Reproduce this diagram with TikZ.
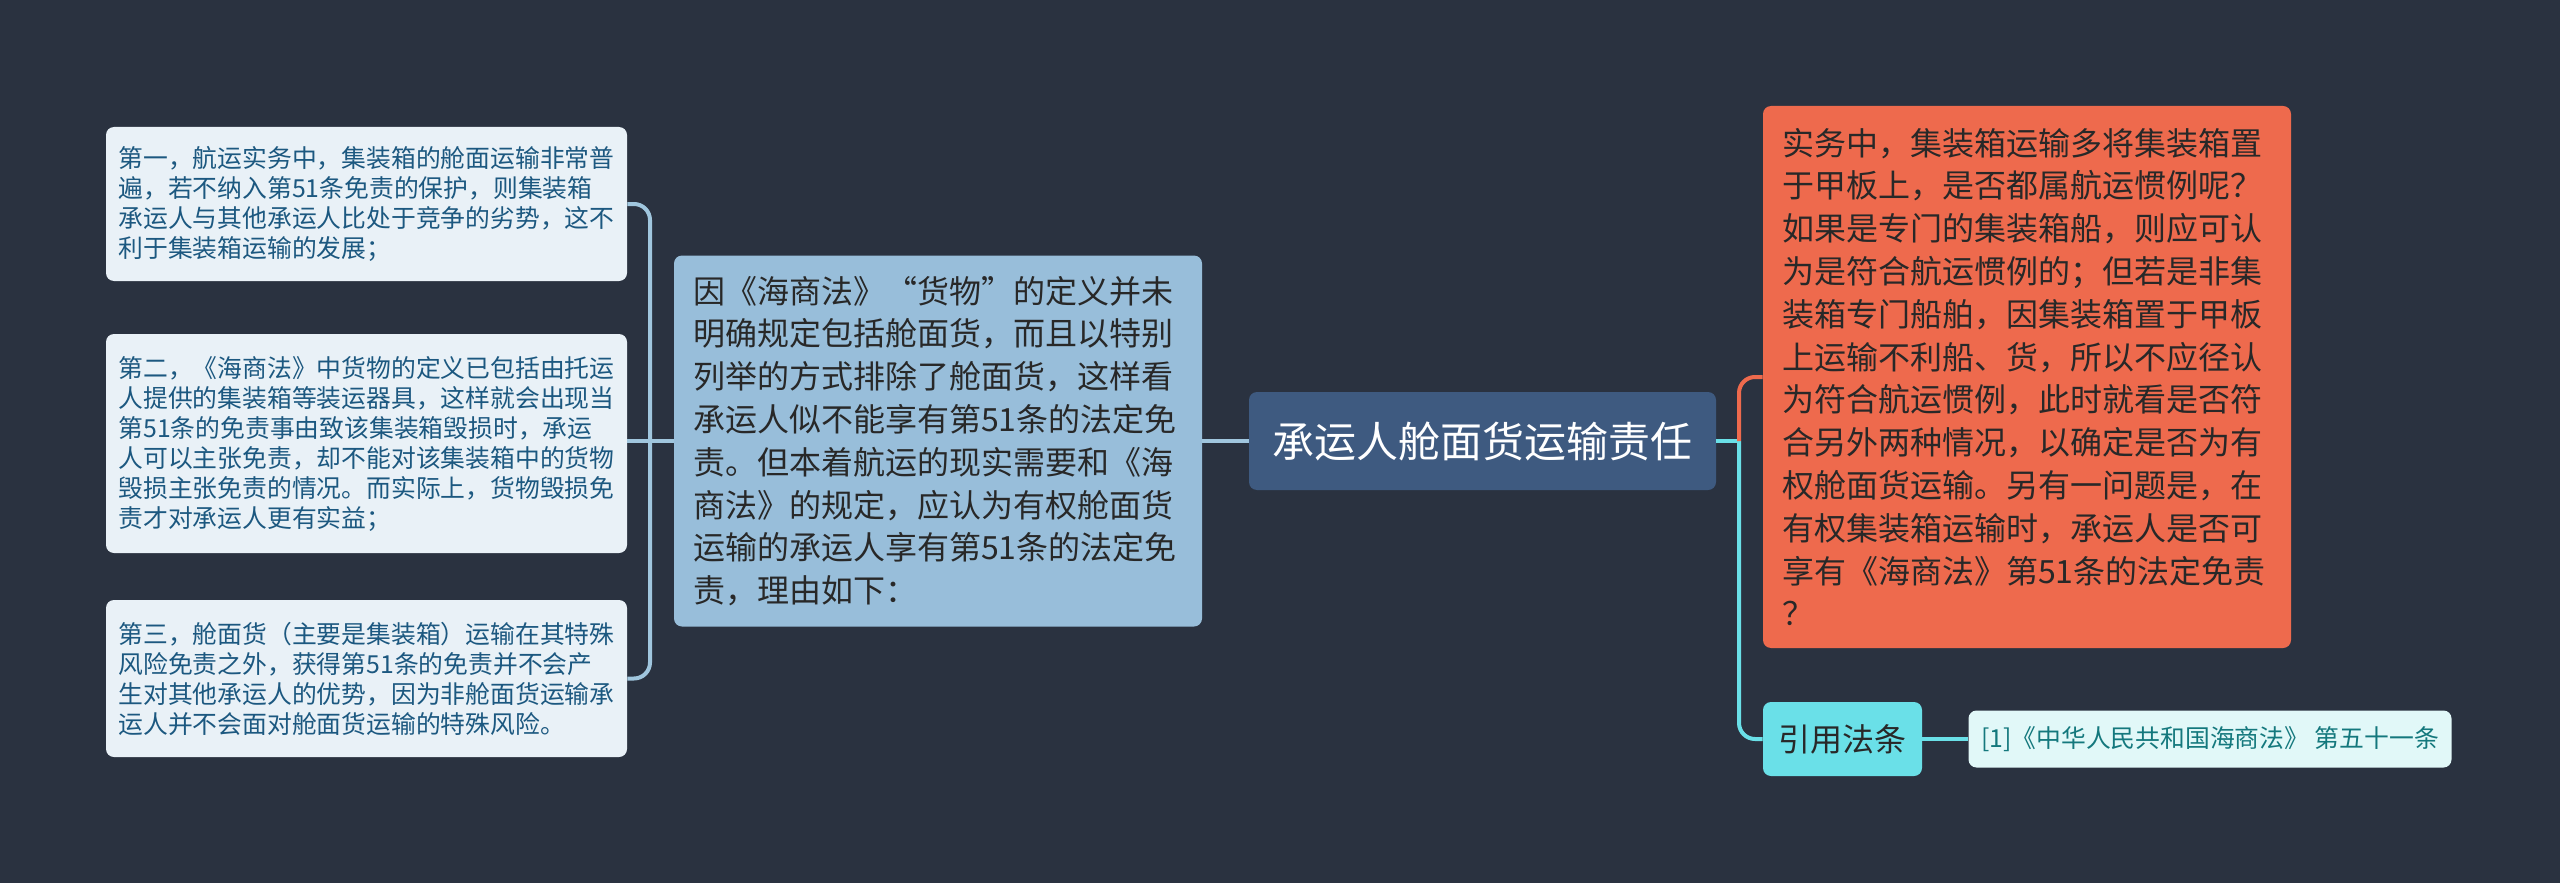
\documentclass[tikz,border=0pt]{standalone}
\usepackage{fontspec}
\setmainfont{Noto Sans CJK SC}
\definecolor{bgdark}{RGB}{42,50,64}
\definecolor{leaffill}{RGB}{233,241,247}
\definecolor{leaftext}{RGB}{28,88,128}
\definecolor{leafline}{RGB}{160,198,222}
\definecolor{basisfill}{RGB}{152,190,218}
\definecolor{rootfill}{RGB}{62,90,128}
\definecolor{qfill}{RGB}{238,106,77}
\definecolor{reffill}{RGB}{106,224,232}
\definecolor{citefill}{RGB}{225,248,248}
\definecolor{citetext}{RGB}{20,120,125}
\definecolor{darktext}{RGB}{40,40,40}
\begin{document}
\begin{tikzpicture}
  [x=0.5pt,y=-0.5pt,
   every node/.style={rounded corners=4pt,inner ysep=0pt,align=left},
   reason/.style={fill=leaffill,text=leaftext,text width=248pt,inner xsep=6.25pt,
     font=\fontsize{12.4pt}{15pt}\selectfont},
   bigbox/.style={text=darktext,text width=245pt,inner xsep=9.5pt,
     font=\fontsize{16pt}{21.4pt}\selectfont},
   leftline/.style={draw=leafline,line width=2pt,rounded corners=8pt},
   qline/.style={draw=qfill,line width=2pt,rounded corners=8pt},
   refline/.style={draw=reffill,line width=2pt,rounded corners=8pt}]
  \fill[bgdark] (0,0) rectangle (2560,883);

  \node[fill=rootfill,text=white,minimum width=233.5pt,minimum height=49pt,
    font=\fontsize{21pt}{25pt}\selectfont] (root) at (1482.5,441) {承运人舱面货运输责任};

  \node[bigbox,fill=basisfill,minimum height=185.5pt] (basis) at (938,441)
    {因《海商法》“货物”的定义并未\\明确规定包括舱面货，而且以特别\\列举的方式排除了舱面货，这样看\\承运人似不能享有第51条的法定免\\责。但本着航运的现实需要和《海\\商法》的规定，应认为有权舱面货\\运输的承运人享有第51条的法定免\\责，理由如下：};

  \node[reason,minimum height=77pt] (reason1) at (366.5,204)
    {第一，航运实务中，集装箱的舱面运输非常普\\遍，若不纳入第51条免责的保护，则集装箱\\承运人与其他承运人比处于竞争的劣势，这不\\利于集装箱运输的发展；};
  \node[reason,minimum height=109.5pt] (reason2) at (366.5,443.5)
    {第二，《海商法》中货物的定义已包括由托运\\人提供的集装箱等装运器具，这样就会出现当\\第51条的免责事由致该集装箱毁损时，承运\\人可以主张免责，却不能对该集装箱中的货物\\毁损主张免责的情况。而实际上，货物毁损免\\责才对承运人更有实益；};
  \node[reason,minimum height=78.5pt] (reason3) at (366.5,678.5)
    {第三，舱面货（主要是集装箱）运输在其特殊\\风险免责之外，获得第51条的免责并不会产\\生对其他承运人的优势，因为非舱面货运输承\\运人并不会面对舱面货运输的特殊风险。};

  \node[bigbox,fill=qfill,text=darktext,minimum height=271pt] (question) at (2027,377)
    {实务中，集装箱运输多将集装箱置\\于甲板上，是否都属航运惯例呢？\\如果是专门的集装箱船，则应可认\\为是符合航运惯例的；但若是非集\\装箱专门船舶，因集装箱置于甲板\\上运输不利船、货，所以不应径认\\为符合航运惯例，此时就看是否符\\合另外两种情况，以确定是否为有\\权舱面货运输。另有一问题是，在\\有权集装箱运输时，承运人是否可\\享有《海商法》第51条的法定免责\\？};

  \node[fill=reffill,text=darktext,minimum width=79.5pt,minimum height=37pt,
    font=\fontsize{16pt}{19pt}\selectfont] (refs) at (1842.5,739) {引用法条};
  \node[fill=citefill,text=citetext,minimum width=241.5pt,minimum height=28.5pt,
    font=\fontsize{12.4pt}{15pt}\selectfont] (cite) at (2210,739)
    {[1]《中华人民共和国海商法》 第五十一条};

  \coordinate (jl) at (650,441);
  \coordinate (jr) at (1739,441);

  \draw[leftline] (root.west) -- (root.west -| basis.east);
  \draw[leftline] (basis.west) -- (jl);
  \draw[leftline] (jl) -- (jl -| reason2.east);
  \foreach \leaf in {reason1,reason3}
    \draw[leftline] (\leaf.east) -| (jl);

  \draw[refline] (root.east) -- (jr);
  \draw[refline] (refs.west) -| (jr);
  \draw[qline] (question.west) -| (jr);
  \draw[refline] (refs.east) -- (cite.west);
\end{tikzpicture}
\end{document}
